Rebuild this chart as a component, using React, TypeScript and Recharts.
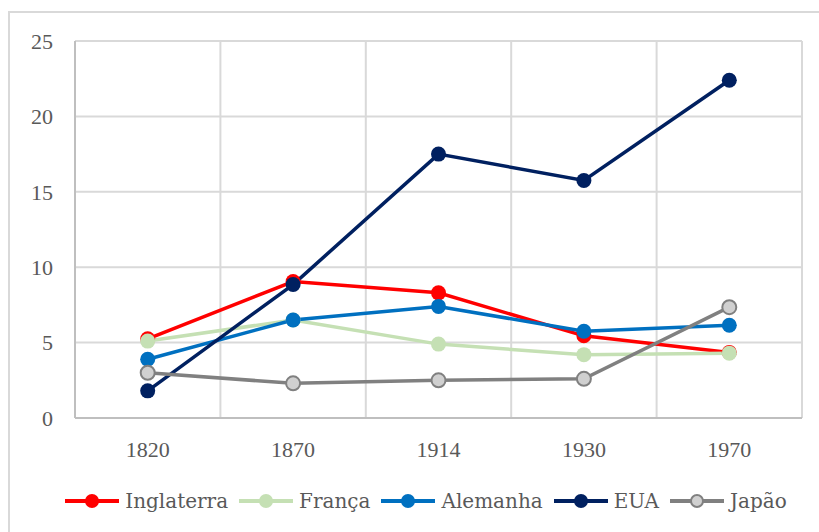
import React from 'react';
import { LineChart, Line, XAxis, YAxis, CartesianGrid, Legend } from 'recharts';

const categories = ['1820', '1870', '1914', '1930', '1970'];
const inglaterra = [5.25, 9.05, 8.3, 5.45, 4.35];
const franca = [5.1, 6.5, 4.9, 4.2, 4.3];
const alemanha = [3.9, 6.5, 7.4, 5.75, 6.15];
const eua = [1.8, 8.85, 17.5, 15.75, 22.4];
const japao = [3.0, 2.3, 2.5, 2.6, 7.35];
const yTicks = [0, 5, 10, 15, 20, 25];

const series = [
  { key: 'Inglaterra', values: inglaterra, color: '#ff0000' },
  { key: 'França', values: franca, color: '#c5e0b4' },
  { key: 'Alemanha', values: alemanha, color: '#0070c0' },
  { key: 'EUA', values: eua, color: '#002060' },
  { key: 'Japão', values: japao, color: '#808080', hollow: true },
];

const data = categories.map((year, i) => {
  const row: Record<string, number | string> = { year, idx: i + 0.5 };
  series.forEach((s) => {
    row[s.key] = s.values[i];
  });
  return row;
});

const serif = '"DejaVu Serif", Cambria, serif';
const digits = '"Liberation Serif", serif';

function LegendContent() {
  return (
    <div style={{ display: 'flex', justifyContent: 'center', alignItems: 'center', paddingTop: 21, paddingLeft: 46, fontFamily: serif, fontSize: 20, color: '#595959' }}>
      {series.map((s) => (
        <div key={s.key} style={{ display: 'flex', alignItems: 'center', marginRight: 11 }}>
          <svg width={54} height={18} style={{ marginRight: 6 }}>
            <line x1={0} y1={9} x2={54} y2={9} stroke={s.color} strokeWidth={4} />
            <circle
              cx={27}
              cy={9}
              r={s.hollow ? 6 : 7}
              fill={s.hollow ? '#d0d0d0' : s.color}
              stroke={s.hollow ? s.color : 'none'}
              strokeWidth={s.hollow ? 2 : 0}
            />
          </svg>
          <span>{s.key}</span>
        </div>
      ))}
    </div>
  );
}

export default function App() {
  return (
    <div style={{ position: 'absolute', left: 0, top: 0, width: 819, height: 532, overflow: 'hidden', background: '#fff' }}>
      <div style={{ position: 'absolute', left: 8, top: 11, width: 840, height: 560, border: '2px solid #d9d9d9', boxSizing: 'border-box' }} />
      <div style={{ position: 'absolute', left: 0, top: 0 }}>
        <LineChart width={819} height={532} data={data} margin={{ top: 41, right: 17, bottom: 0, left: 15 }}>
          <XAxis
            xAxisId="grid"
            dataKey="idx"
            type="number"
            domain={[0, 5]}
            ticks={[0, 1, 2, 3, 4, 5]}
            hide
          />
          <CartesianGrid xAxisId="grid" stroke="#d9d9d9" strokeWidth={2} />
          <XAxis
            dataKey="year"
            scale="band"
            height={50}
            tickLine={false}
            tickSize={0}
            tickMargin={23}
            axisLine={{ stroke: '#bfbfbf', strokeWidth: 2 }}
            tick={{ fill: '#595959', fontSize: 22, fontFamily: digits }}
          />
          <YAxis
            domain={[0, 25]}
            ticks={yTicks}
            width={60}
            tickLine={false}
            tickSize={0}
            tickMargin={22}
            axisLine={{ stroke: '#bfbfbf', strokeWidth: 2 }}
            tick={{ fill: '#595959', fontSize: 22, fontFamily: digits }}
          />
          <Legend verticalAlign="bottom" height={64} content={<LegendContent />} />
          {series.map((s) => (
            <Line
              key={s.key}
              dataKey={s.key}
              stroke={s.color}
              strokeWidth={3.5}
              isAnimationActive={false}
              dot={
                s.hollow
                  ? { r: 7, fill: '#d0d0d0', stroke: s.color, strokeWidth: 2 }
                  : { r: 7.5, fill: s.color, stroke: s.color, strokeWidth: 0 }
              }
              activeDot={false}
            />
          ))}
        </LineChart>
      </div>
    </div>
  );
}
